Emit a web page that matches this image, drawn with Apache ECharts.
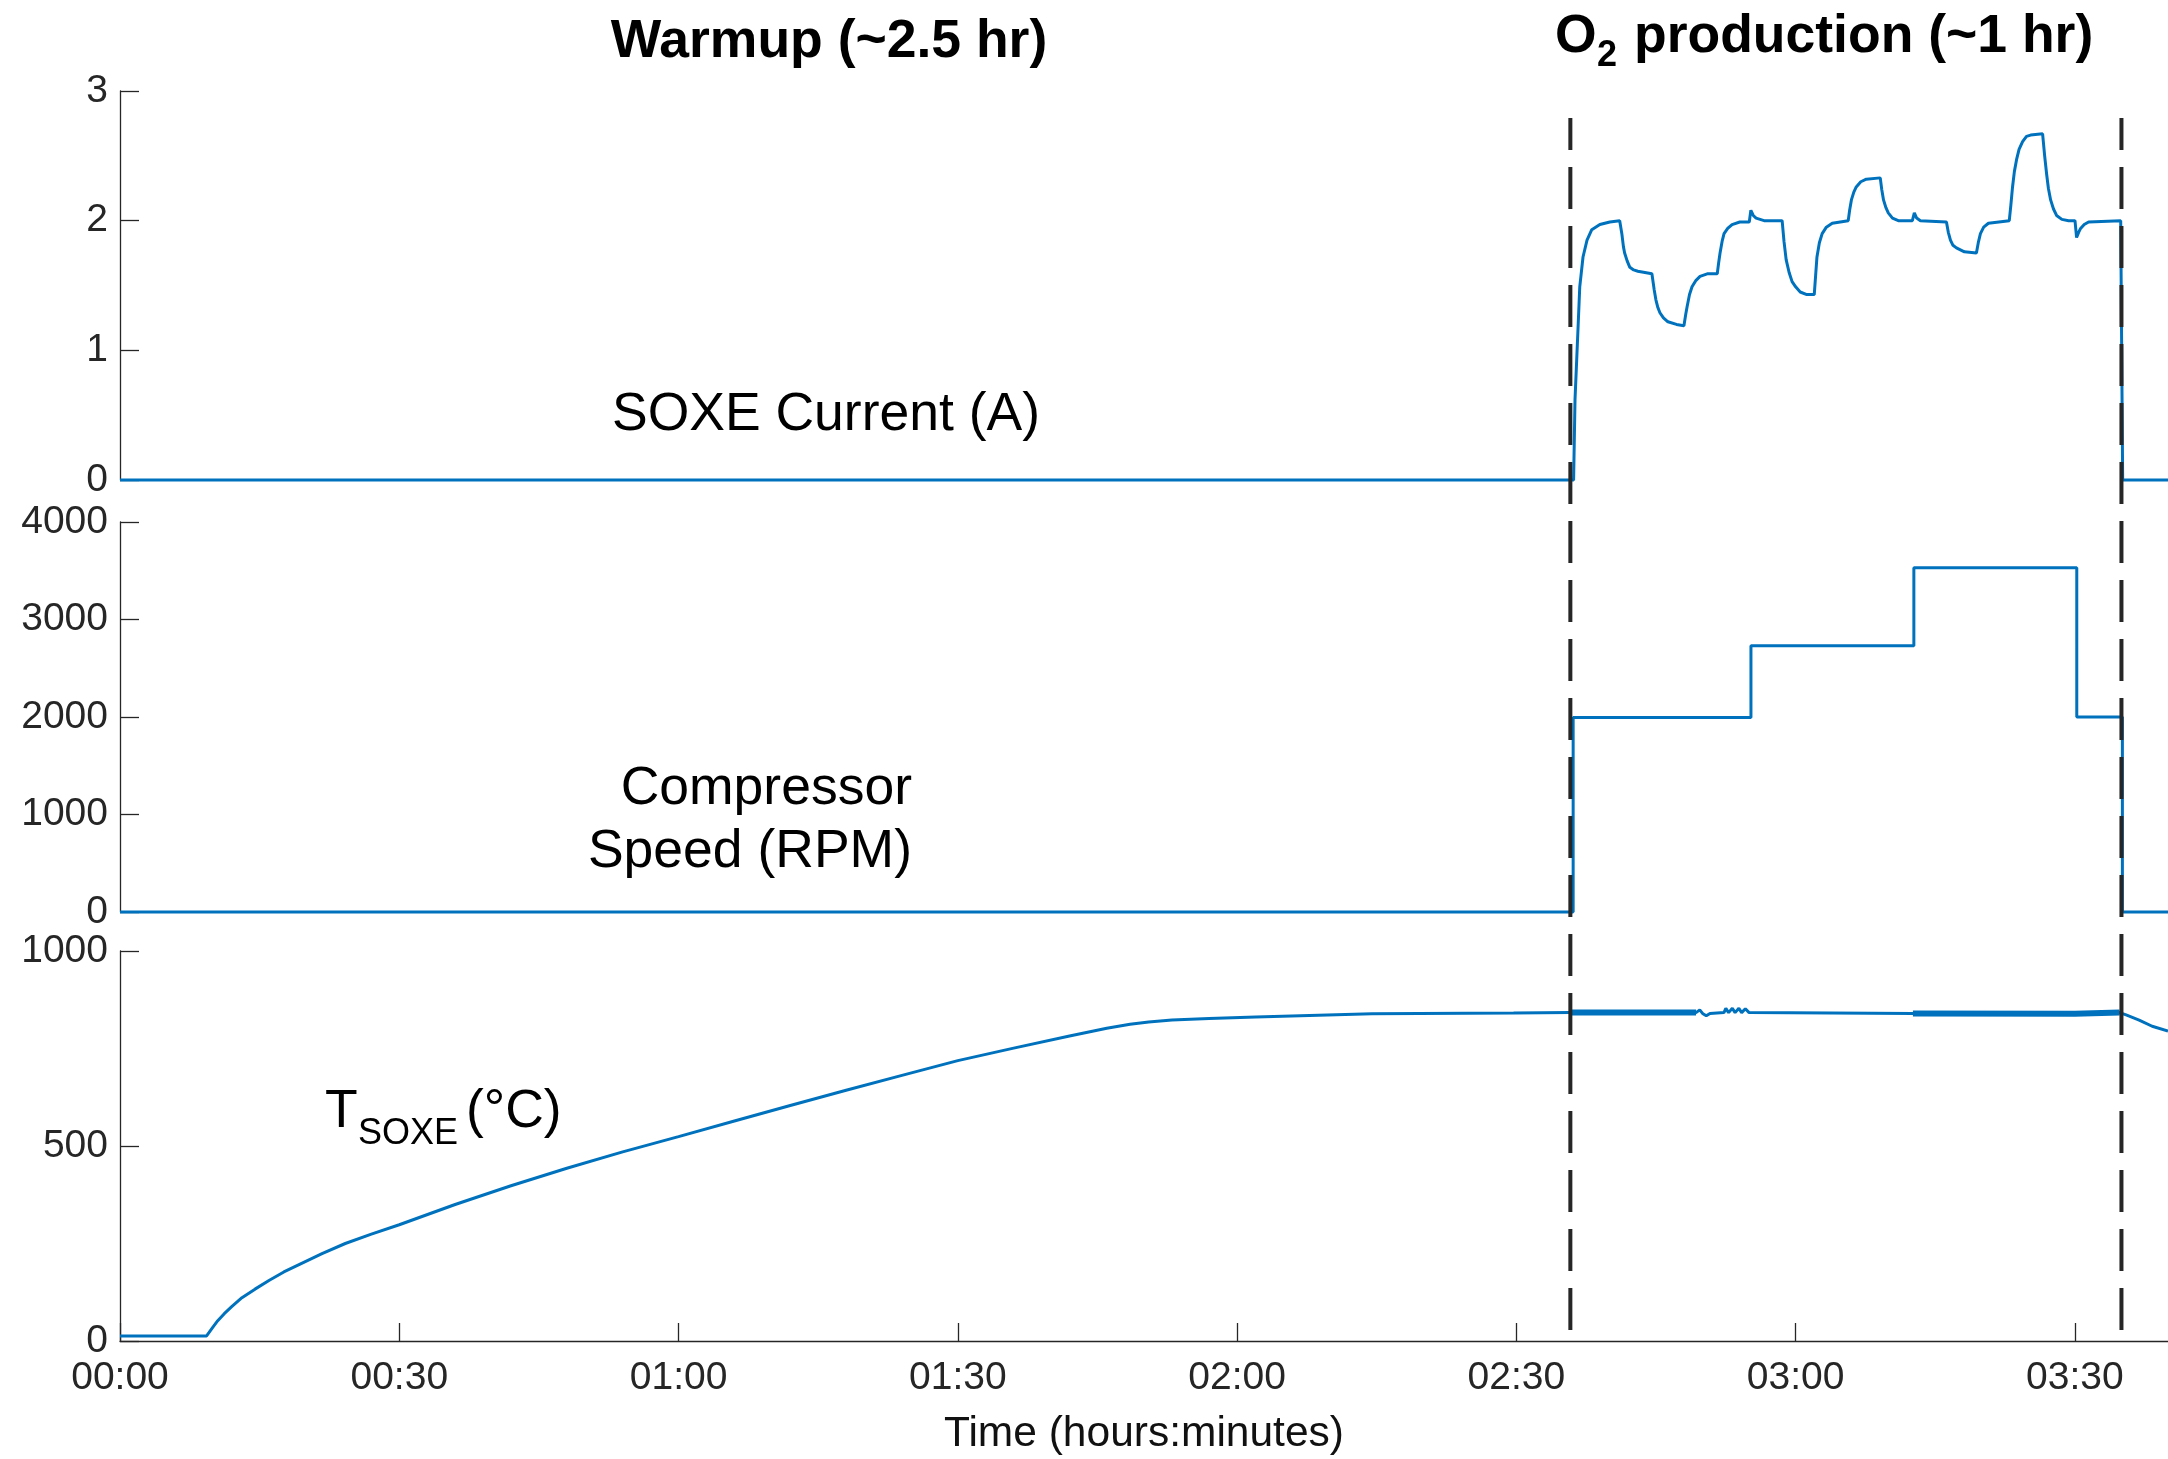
<!DOCTYPE html>
<html>
<head>
<meta charset="utf-8">
<title>SOXE run: warmup and O2 production</title>
<script src="https://cdn.jsdelivr.net/npm/echarts@6.0.0/dist/echarts.min.js"></script>
<style>
  html, body { margin: 0; padding: 0; background: #ffffff; }
  #chart { width: 2168px; height: 1459px; }
</style>
</head>
<body>
<div id="chart"></div>
<script>
// All times are minutes since the start of the run.

// SOXE current, [minute, amps]
const currentSamples = [
  [0, 0], [156.15, 0], [156.3, 0.62], [156.6, 1.13], [156.81, 1.49], [157.16, 1.72],
  [157.59, 1.85], [158.1, 1.93], [158.97, 1.97], [160.04, 1.99], [161.1, 2.0],
  [161.33, 1.90], [161.5, 1.80], [161.63, 1.75], [161.9, 1.69], [162.19, 1.64], [162.6, 1.62],
  [163.05, 1.61], [164.56, 1.59],
  [164.8, 1.47], [164.99, 1.39], [165.2, 1.33], [165.42, 1.29], [165.8, 1.25], [166.28, 1.22],
  [167.2, 1.20], [168.0, 1.19],
  [168.2, 1.28], [168.35, 1.34], [168.6, 1.43], [168.87, 1.49], [169.3, 1.54], [169.73, 1.57],
  [170.5, 1.59], [171.58, 1.59],
  [171.72, 1.67], [171.88, 1.75], [172.1, 1.84], [172.31, 1.90], [172.7, 1.94], [173.17, 1.97],
  [174.0, 1.99], [175.02, 1.99],
  [175.19, 2.08], [175.45, 2.04], [175.75, 2.02], [176.61, 2.0], [178.55, 2.0],
  [178.75, 1.84], [178.98, 1.70], [179.3, 1.60], [179.62, 1.53], [180.0, 1.49], [180.49, 1.45],
  [181.2, 1.43], [182.0, 1.43],
  [182.15, 1.58], [182.29, 1.72], [182.55, 1.83], [182.85, 1.90], [183.3, 1.95], [183.93, 1.98],
  [185.65, 2.0],
  [185.8, 2.08], [185.99, 2.16], [186.25, 2.22], [186.51, 2.26], [187.0, 2.30], [187.59, 2.32],
  [189.09, 2.33],
  [189.25, 2.24], [189.44, 2.16], [189.7, 2.10], [189.95, 2.06], [190.4, 2.02], [191.03, 2.0],
  [192.54, 2.0],
  [192.75, 2.06], [193.0, 2.02], [193.4, 2.0], [196.2, 1.99],
  [196.4, 1.91], [196.63, 1.85], [196.9, 1.81], [197.27, 1.79], [198.13, 1.76], [199.42, 1.75],
  [199.62, 1.83], [199.85, 1.90], [200.2, 1.95], [200.71, 1.98], [202.95, 2.0],
  [203.12, 2.12], [203.3, 2.26], [203.5, 2.38], [203.73, 2.47], [204.0, 2.55], [204.38, 2.61],
  [204.8, 2.65], [205.24, 2.66], [206.53, 2.67],
  [206.75, 2.50], [206.96, 2.36], [207.15, 2.25], [207.39, 2.16], [207.7, 2.09], [208.03, 2.04],
  [208.6, 2.01], [209.32, 2.0], [210.01, 2.0],
  [210.18, 1.87], [210.4, 1.91], [210.61, 1.94], [211.0, 1.97], [211.47, 1.99], [214.92, 2.0],
  [215.13, 0], [220, 0]
];

// Compressor speed set points, [minute, rpm] (held until the next entry)
const speedSteps = [
  [0, 0], [156.1, 1995], [175.2, 2730], [192.7, 3530], [210.2, 2000], [215.1, 0], [220, 0]
];

// SOXE temperature, [minute, deg C]
const tempSamples = [
  [0, 13], [9.3, 13], [10.0, 36], [10.5, 52], [11.2, 70], [12.0, 88], [13.1, 111],
  [14.5, 133], [16.0, 155], [17.6, 177], [19.4, 198], [21.7, 224], [24.2, 250], [27.0, 274],
  [30.0, 298], [36.0, 350], [42.0, 398], [48.0, 443], [54.0, 485], [60.0, 524],
  [66.0, 564], [72.0, 604], [78.0, 643], [84.0, 681], [90.0, 719], [96.0, 751],
  [102.0, 782], [106.0, 802], [108.5, 812], [110.5, 818], [113.0, 823], [117.0, 827],
  [122.0, 831], [134.5, 839], [149.7, 841], [155.8, 842],
  [169.3, 842], [169.7, 849], [170.0, 840], [170.4, 834], [170.8, 840], [172.3, 842],
  [172.5, 853], [172.8, 842], [173.2, 853], [173.5, 842], [173.9, 853], [174.2, 842],
  [174.6, 852], [175.0, 842], [175.2, 840], [192.6, 840], [210.0, 839], [214.8, 842],
  [215.5, 836], [216.9, 823], [218.3, 807], [220.0, 795]
];

// stretches where the thermocouple trace is visibly jittery
const noisyTempWindows = [[155.8, 169.3], [192.6, 214.8]];

// start and end of O2 production
const phaseBounds = [155.8, 215.0];

const timeTickLabels = ['00:00', '00:30', '01:00', '01:30', '02:00', '02:30', '03:00', '03:30'];
const timeTickStep = 30;
const timeMax = 220;

const BLUE = '#0072BD';
const AXIS = '#262626';
const FONT = '"Liberation Sans", Arial, Helvetica, sans-serif';
const TICK_FONT = 39;
const NOTE_FONT = 53.5;
const SUB_FONT = 36;

const chart = echarts.init(document.getElementById('chart'), null, { renderer: 'canvas' });

const grids = [
  { left: 120, width: 2048, top: 91, height: 389 },    // current
  { left: 120, width: 2048, top: 522, height: 390 },   // compressor speed
  { left: 120, width: 2048, top: 951, height: 390 },   // temperature
  { left: 120, width: 2048, top: 118, height: 1212 }   // phase boundary overlay
].map(g => Object.assign({ outerBoundsMode: 'none', containLabel: false }, g));

function hiddenX(gridIndex) {
  return { type: 'value', gridIndex, min: 0, max: timeMax, show: false };
}

function yAxis(gridIndex, max, interval) {
  return {
    type: 'value', gridIndex, min: 0, max, interval,
    axisLine: { show: true, lineStyle: { color: AXIS, width: 1.3 } },
    axisTick: { show: true, inside: true, length: 19, lineStyle: { color: AXIS, width: 1.3 } },
    axisLabel: {
      show: true, fontSize: TICK_FONT, fontFamily: FONT, color: AXIS, margin: 12,
      padding: [10, 0, 0, 0],
      formatter: v => String(v)
    },
    splitLine: { show: false }
  };
}

function lineSeries(data, xi, yi, extra) {
  return Object.assign({
    type: 'line', xAxisIndex: xi, yAxisIndex: yi, data,
    showSymbol: false, symbol: 'none', smooth: false, clip: false, silent: true,
    lineStyle: { color: BLUE, width: 3 }, emphasis: { disabled: true }, z: 3
  }, extra || {});
}

const noisySeries = noisyTempWindows.map(([a, b]) =>
  lineSeries(tempSamples.filter(p => p[0] >= a && p[0] <= b), 2, 2, { lineStyle: { color: BLUE, width: 6 } })
);

// annotation text; y is the visual centre of the capitals
function txt(text, x, y, size, align, weight) {
  return {
    type: 'text', x, y: y + 4, silent: true, z: 50,
    style: {
      text, fill: '#000', font: (weight || 'normal') + ' ' + size + 'px ' + FONT,
      textAlign: align, textVerticalAlign: 'middle', align, verticalAlign: 'middle'
    }
  };
}

const option = {
  animation: false,
  backgroundColor: '#ffffff',
  grid: grids,
  xAxis: [
    hiddenX(0), hiddenX(1),
    {
      type: 'value', gridIndex: 2, min: 0, max: timeMax, interval: timeTickStep,
      axisLine: { show: true, lineStyle: { color: AXIS, width: 1.3 } },
      axisTick: { show: true, inside: true, length: 18, lineStyle: { color: AXIS, width: 1.3 } },
      axisLabel: {
        show: true, fontSize: TICK_FONT, fontFamily: FONT, color: AXIS, margin: 18,
        showMaxLabel: false,
        formatter: v => (v % timeTickStep === 0 ? (timeTickLabels[v / timeTickStep] || '') : '')
      },
      splitLine: { show: false },
      name: 'Time (hours:minutes)', nameLocation: 'middle', nameGap: 72,
      nameTextStyle: { fontSize: 42.5, fontFamily: FONT, color: '#111' }
    },
    hiddenX(3)
  ],
  yAxis: [
    yAxis(0, 3, 1),
    yAxis(1, 4000, 1000),
    yAxis(2, 1000, 500),
    { type: 'value', gridIndex: 3, min: 0, max: 1, show: false }
  ],
  series: [
    lineSeries(currentSamples, 0, 0),
    lineSeries(speedSteps, 1, 1, { step: 'end' }),
    lineSeries(tempSamples, 2, 2),
    ...noisySeries,
    {
      type: 'custom', xAxisIndex: 3, yAxisIndex: 3, clip: false, silent: true, z: 10,
      data: phaseBounds.map(t => [t, 0]),
      encode: { x: 0, y: 1 },
      renderItem: (params, api) => {
        const t = api.value(0);
        const bottom = api.coord([t, 0]);
        const top = api.coord([t, 1]);
        return {
          type: 'line',
          shape: { x1: bottom[0], y1: bottom[1], x2: top[0], y2: top[1] },
          style: { stroke: '#262626', lineWidth: 4, lineDash: [42, 17] }
        };
      }
    }
  ],
  graphic: [
    txt('Warmup (~2.5 hr)', 829, 38, NOTE_FONT, 'center', 'bold'),
    txt('O', 1555, 33, NOTE_FONT, 'left', 'bold'),
    txt('2', 1597, 52, SUB_FONT, 'left', 'bold'),
    txt('production (~1 hr)', 1634, 33, NOTE_FONT, 'left', 'bold'),
    txt('SOXE Current (A)', 826, 411, NOTE_FONT, 'center'),
    txt('Compressor', 912, 785, NOTE_FONT, 'right'),
    txt('Speed (RPM)', 912, 848, NOTE_FONT, 'right'),
    txt('T', 325, 1108, NOTE_FONT, 'left'),
    txt('SOXE', 358, 1130, SUB_FONT, 'left'),
    txt('(°C)', 466, 1108, NOTE_FONT, 'left')
  ]
};

chart.setOption(option);
</script>
</body>
</html>
